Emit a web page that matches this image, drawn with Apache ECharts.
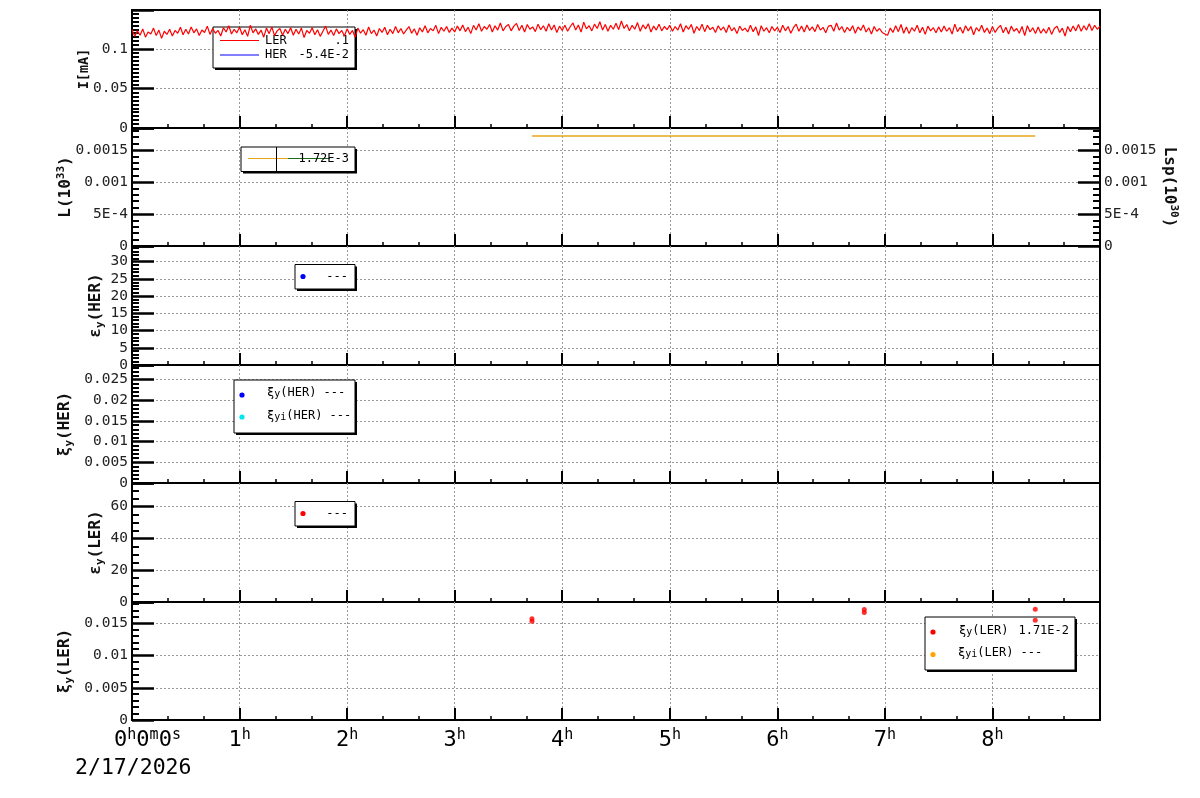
<!DOCTYPE html>
<html><head><meta charset="utf-8">
<script src="https://cdn.jsdelivr.net/npm/echarts@6/dist/echarts.min.js"></script>
<style>html,body{margin:0;padding:0;background:#fff}#c{width:1200px;height:798px}</style>
</head><body><div id="c"></div>
<script>
const FONT = '"DejaVu Sans Mono", monospace';

// ---- data ----
const timeMax = 32400;          // 9 h in seconds
const hourStep = 3600;
const currentStep = 90;         // sampling of beam current (s)
const currentLER = [
0.1245,0.1160,0.1230,0.1175,0.1255,0.1150,0.1215,0.1190,0.1265,0.1170,0.1240,0.1135,0.1225,0.1185,0.1250,0.1165,0.1235,0.1200,0.1275,0.1180,
0.1250,0.1190,0.1280,0.1205,0.1255,0.1170,0.1240,0.1210,0.1290,0.1185,0.1260,0.1200,0.1235,0.1165,0.1270,0.1215,0.1295,0.1190,0.1250,0.1205,
0.1275,0.1180,0.1245,0.1160,0.1300,0.1205,0.1255,0.1185,0.1240,0.1150,0.1265,0.1195,0.1280,0.1170,0.1230,0.1260,0.1175,0.1250,0.1195,0.1270,
0.1175,0.1250,0.1190,0.1265,0.1145,0.1235,0.1200,0.1270,0.1180,0.1245,0.1160,0.1225,0.1290,0.1185,0.1240,0.1170,0.1255,0.1195,0.1235,0.1165,
0.1255,0.1185,0.1235,0.1150,0.1265,0.1200,0.1245,0.1175,0.1280,0.1195,0.1240,0.1165,0.1260,0.1210,0.1275,0.1180,0.1250,0.1195,0.1285,0.1205,
0.1260,0.1190,0.1240,0.1285,0.1200,0.1255,0.1175,0.1270,0.1215,0.1295,0.1205,0.1260,0.1230,0.1300,0.1195,0.1275,0.1225,0.1285,0.1210,0.1265,
0.1215,0.1290,0.1230,0.1305,0.1220,0.1275,0.1195,0.1300,0.1240,0.1320,0.1225,0.1285,0.1250,0.1310,0.1215,0.1295,0.1240,0.1330,0.1230,0.1285,
0.1310,0.1230,0.1290,0.1325,0.1235,0.1300,0.1215,0.1310,0.1250,0.1280,0.1220,0.1315,0.1245,0.1295,0.1225,0.1320,0.1240,0.1305,0.1210,0.1290,
0.1235,0.1300,0.1225,0.1285,0.1330,0.1240,0.1305,0.1215,0.1340,0.1255,0.1295,0.1230,0.1315,0.1260,0.1345,0.1240,0.1310,0.1225,0.1300,0.1250,
0.1325,0.1245,0.1355,0.1260,0.1310,0.1230,0.1300,0.1250,0.1335,0.1225,0.1305,0.1255,0.1320,0.1215,0.1290,0.1240,0.1315,0.1230,0.1285,0.1245,
0.1300,0.1225,0.1285,0.1240,0.1320,0.1215,0.1295,0.1250,0.1310,0.1200,0.1285,0.1235,0.1315,0.1220,0.1300,0.1245,0.1275,0.1210,0.1295,0.1240,
0.1280,0.1210,0.1305,0.1230,0.1270,0.1195,0.1290,0.1235,0.1265,0.1215,0.1300,0.1220,0.1280,0.1170,0.1295,0.1225,0.1270,0.1205,0.1285,0.1230,
0.1275,0.1210,0.1300,0.1230,0.1285,0.1200,0.1270,0.1315,0.1225,0.1290,0.1215,0.1305,0.1235,0.1280,0.1220,0.1310,0.1240,0.1275,0.1205,0.1290,
0.1300,0.1225,0.1330,0.1240,0.1285,0.1210,0.1275,0.1230,0.1295,0.1200,0.1280,0.1235,0.1305,0.1215,0.1270,0.1190,0.1285,0.1225,0.1260,0.1210,
0.1190,0.1175,0.1265,0.1210,0.1295,0.1220,0.1310,0.1200,0.1280,0.1195,0.1270,0.1225,0.1300,0.1205,0.1275,0.1185,0.1290,0.1230,0.1270,0.1205,
0.1280,0.1215,0.1290,0.1225,0.1270,0.1190,0.1315,0.1220,0.1275,0.1200,0.1295,0.1230,0.1285,0.1180,0.1270,0.1225,0.1300,0.1210,0.1265,0.1195,
0.1285,0.1210,0.1265,0.1300,0.1205,0.1275,0.1190,0.1290,0.1225,0.1260,0.1200,0.1285,0.1170,0.1295,0.1215,0.1270,0.1195,0.1280,0.1200,0.1255,
0.1200,0.1275,0.1185,0.1260,0.1290,0.1210,0.1265,0.1165,0.1285,0.1220,0.1290,0.1230,0.1310,0.1225,0.1295,0.1240,0.1320,0.1235,0.1300,0.1250,
0.1290
];
const currentHER = [];
const lumTimes = [13388, 30233];
const lumValues = [0.00172, 0.00172];
const lspValues = [];
const emitHER = [];
const xiHER = [];
const xiiHER = [];
const emitLER = [];
const xiLerTimes = [13388, 13388, 24510, 24510, 30233, 30233];
const xiLerValues = [0.01532, 0.01572, 0.01670, 0.01713, 0.01547, 0.01718];
const xiiLER = [];
const dateLabel = '2/17/2026';

// panel layout (y ranges)
const panels = [
  {top:10,  h:118, max:0.1494,  interval:0.05,   minor:10, name:'{b|I[mA]}', gap:39, small:true},
  {top:128, h:118, max:0.001844,interval:0.0005, minor:5,  name:'{b|L(10}{sup|33}{b|)}', gap:56},
  {top:246, h:119, max:34.56,   interval:5,      minor:5,  name:'{b|ε}{sub|y}{b|(HER)}', gap:26},
  {top:365, h:118, max:0.02855, interval:0.005,  minor:5,  name:'{b|ξ}{sub|y}{b|(HER)}', gap:57},
  {top:483, h:119, max:74.9,    interval:20,     minor:4,  name:'{b|ε}{sub|y}{b|(LER)}', gap:26},
  {top:602, h:118, max:0.01831, interval:0.005,  minor:5,  name:'{b|ξ}{sub|y}{b|(LER)}', gap:57}
];

const richName = (fs) => ({
  b:{fontFamily:FONT, fontSize:fs, fontWeight:'bold', color:'#111', lineHeight:fs+4},
  sup:{fontFamily:FONT, fontSize:11, fontWeight:'bold', color:'#111', verticalAlign:'top', lineHeight:11},
  sub:{fontFamily:FONT, fontSize:11, fontWeight:'bold', color:'#111', verticalAlign:'bottom', lineHeight:11}
});

const yFmt = v => {
  if (v === 0) return '0';
  if (Math.abs(v) < 0.001) return v.toExponential().toUpperCase();
  return String(+v.toPrecision(6));
};

const grids = panels.map(p => ({left:132, width:968, top:p.top, height:p.h, show:true,
  borderColor:'#000', borderWidth:2, backgroundColor:'transparent'}));

const xAxes = panels.map((p,i) => ({
  type:'value', gridIndex:i, min:0, max:timeMax, interval:hourStep,
  axisLine:{show:false},
  axisTick:{show:true, inside:true, length:12, lineStyle:{color:'#000', width:2}},
  minorTick:{show:true, splitNumber:3, length:4, lineStyle:{color:'#000', width:1.5}},
  splitLine:{show:true, showMaxLine:false, showMinLine:false, lineStyle:{color:'#9a9a9a', width:1, type:[2,2]}},
  axisLabel:{show: i === panels.length-1, showMaxLabel:false, margin:8,
    formatter: v => v === 0 ? '{f|0}{s|h}{n|0}{s|m}{n|0}{s|s}' : '{n|' + (v/3600) + '}{s|h}',
    rich:{
      n:{fontFamily:FONT, fontSize:22, color:'#000', lineHeight:24},
      f:{fontFamily:FONT, fontSize:22, color:'#000', lineHeight:24, padding:[0,0,0,31]},
      s:{fontFamily:FONT, fontSize:15, color:'#000', lineHeight:15, verticalAlign:'top'}
    }}
}));

const yAxes = panels.map((p,i) => ({
  type:'value', gridIndex:i, min:0, max:p.max, interval:p.interval,
  axisLine:{show:false},
  axisTick:{show:true, inside:true, length:22, lineStyle:{color:'#000', width:2.5}},
  minorTick:{show:true, splitNumber:p.minor, length:7, lineStyle:{color:'#000', width:2}},
  splitLine:{show:true, showMaxLine:false, showMinLine:false, lineStyle:{color:'#9a9a9a', width:1, type:[2,2]}},
  axisLabel:{showMaxLabel:false, margin:4, fontFamily:FONT, fontSize:14.5, color:'#222', formatter:yFmt},
  name:p.name, nameLocation:'middle', nameGap:p.gap, nameRotate:90, nameMoveOverlap:false,
  nameTextStyle:{rich: richName(p.small ? 13.5 : 16)}
}));
// right axis of luminosity panel
yAxes.push({
  type:'value', gridIndex:1, position:'right', min:0, max:panels[1].max, interval:panels[1].interval,
  axisLine:{show:false},
  axisTick:{show:true, inside:true, length:22, lineStyle:{color:'#000', width:2.5}},
  minorTick:{show:true, splitNumber:5, length:7, lineStyle:{color:'#000', width:2}},
  splitLine:{show:false},
  axisLabel:{showMaxLabel:false, margin:4, fontFamily:FONT, fontSize:14.5, color:'#222', formatter:yFmt},
  name:'{b|Lsp(10}{sup|30}{b|)}', nameLocation:'middle', nameGap:59, nameRotate:-90, nameMoveOverlap:false,
  nameTextStyle:{rich: richName(16)}
});

// ---- legends (graphic) ----
const G = [];
const Z = 1;
function box(l,t,r,b){
  G.push({type:'rect', z:Z, silent:true, shape:{x:l+2,y:t+2,width:r-l,height:b-t}, style:{fill:'#000'}});
  G.push({type:'rect', z:Z, silent:true, shape:{x:l,y:t,width:r-l,height:b-t}, style:{fill:'#fff', stroke:'#000', lineWidth:1}});
}
function seg(x1,y1,x2,y2,c,w){
  G.push({type:'line', z:Z, silent:true, shape:{x1,y1,x2,y2}, style:{stroke:c, lineWidth:w||1}});
}
function dot(cx,cy,c){
  G.push({type:'circle', z:Z, silent:true, shape:{cx,cy,r:2.6}, style:{fill:c}});
}
const legRich = {
  g:{fontFamily:FONT, fontSize:12, color:'#000'},
  sub:{fontFamily:FONT, fontSize:10, color:'#000', verticalAlign:'bottom', lineHeight:10}
};
function txt(x,y,t,align,rich){
  const st = {text:t, font:'12px ' + FONT, fill:'#000', align:align||'left', verticalAlign:'middle',
              textAlign:align||'left', textVerticalAlign:'middle'};
  if (rich) st.rich = legRich;
  G.push({type:'text', z:Z, silent:true, x, y, style:st});
}
// panel 1
box(213,27,355,68);
seg(220,40.5,259,40.5,'#ff0000',1); txt(265,40.5,'LER'); txt(349,40.5,'.1','right');
seg(220,55,259,55,'#0000ff',1);     txt(265,55,'HER');   txt(349,55,'-5.4E-2','right');
// panel 2
box(241,147,355,171.5);
seg(248,158.5,288,158.5,'#e6a817',1); seg(288,158.5,330,158.5,'#1e6b1e',1);
seg(276.5,147,276.5,171.5,'#000',1);
txt(349,158.5,'1.72E-3','right');
// panel 3
box(295,264.5,355,289); dot(303,276.5,'#0000ff'); txt(348,277,'---','right');
// panel 4
box(234,380,355,433);
dot(242,395,'#0000ff'); txt(267,393,'{g|ξ}{sub|y}{g|(HER) ---}','left',true);
dot(242,417,'#00e5ee'); txt(267,416,'{g|ξ}{sub|yi}{g|(HER) ---}','left',true);
// panel 5
box(295,501.5,355,526); dot(303,513.5,'red'); txt(348,514,'---','right');
// panel 6
box(925,617,1075,670);
dot(933,632,'#ff0000'); txt(959,631,'{g|ξ}{sub|y}{g|(LER)}','left',true); txt(1069,631,'1.71E-2','right');
dot(933,654.5,'#ffa500'); txt(958,653,'{g|ξ}{sub|yi}{g|(LER) ---}','left',true);
// date under time axis
G.push({type:'text', z:Z, silent:true, x:75, y:768,
  style:{text:dateLabel, font:'21.5px ' + FONT, fill:'#000', align:'left', verticalAlign:'middle', textAlign:'left', textVerticalAlign:'middle'}});

const series = [
  {type:'line', xAxisIndex:0, yAxisIndex:0, z:3, showSymbol:false, symbol:'none',
   data: currentLER.map((v,i) => [i*currentStep, v]), lineStyle:{color:'#ff0000', width:1.2}},
  {type:'line', xAxisIndex:0, yAxisIndex:0, showSymbol:false, data: currentHER, lineStyle:{color:'#0000ff', width:1}},
  {type:'line', xAxisIndex:1, yAxisIndex:1, z:3, showSymbol:false, symbol:'none',
   data: lumTimes.map((t,i) => [t, lumValues[i]]), lineStyle:{color:'#e6a817', width:1.5}},
  {type:'line', xAxisIndex:1, yAxisIndex:6, showSymbol:false, data: lspValues, lineStyle:{color:'#1e6b1e', width:1}},
  {type:'scatter', xAxisIndex:2, yAxisIndex:2, data: emitHER, itemStyle:{color:'#0000ff'}},
  {type:'scatter', xAxisIndex:3, yAxisIndex:3, data: xiHER, itemStyle:{color:'#0000ff'}},
  {type:'scatter', xAxisIndex:3, yAxisIndex:3, data: xiiHER, itemStyle:{color:'#00e5ee'}},
  {type:'scatter', xAxisIndex:4, yAxisIndex:4, data: emitLER, itemStyle:{color:'#ff0000'}},
  {type:'scatter', xAxisIndex:5, yAxisIndex:5, z:3, symbolSize:5,
   data: xiLerTimes.map((t,i) => [t, xiLerValues[i]]), itemStyle:{color:'#ff0000'}},
  {type:'scatter', xAxisIndex:5, yAxisIndex:5, data: xiiLER, itemStyle:{color:'#ffa500'}}
];

const chart = echarts.init(document.getElementById('c'), null, {renderer:'canvas'});
chart.setOption({
  animation:false,
  backgroundColor:'#fff',
  grid:grids, xAxis:xAxes, yAxis:yAxes, series, graphic:G
});
</script></body></html>
